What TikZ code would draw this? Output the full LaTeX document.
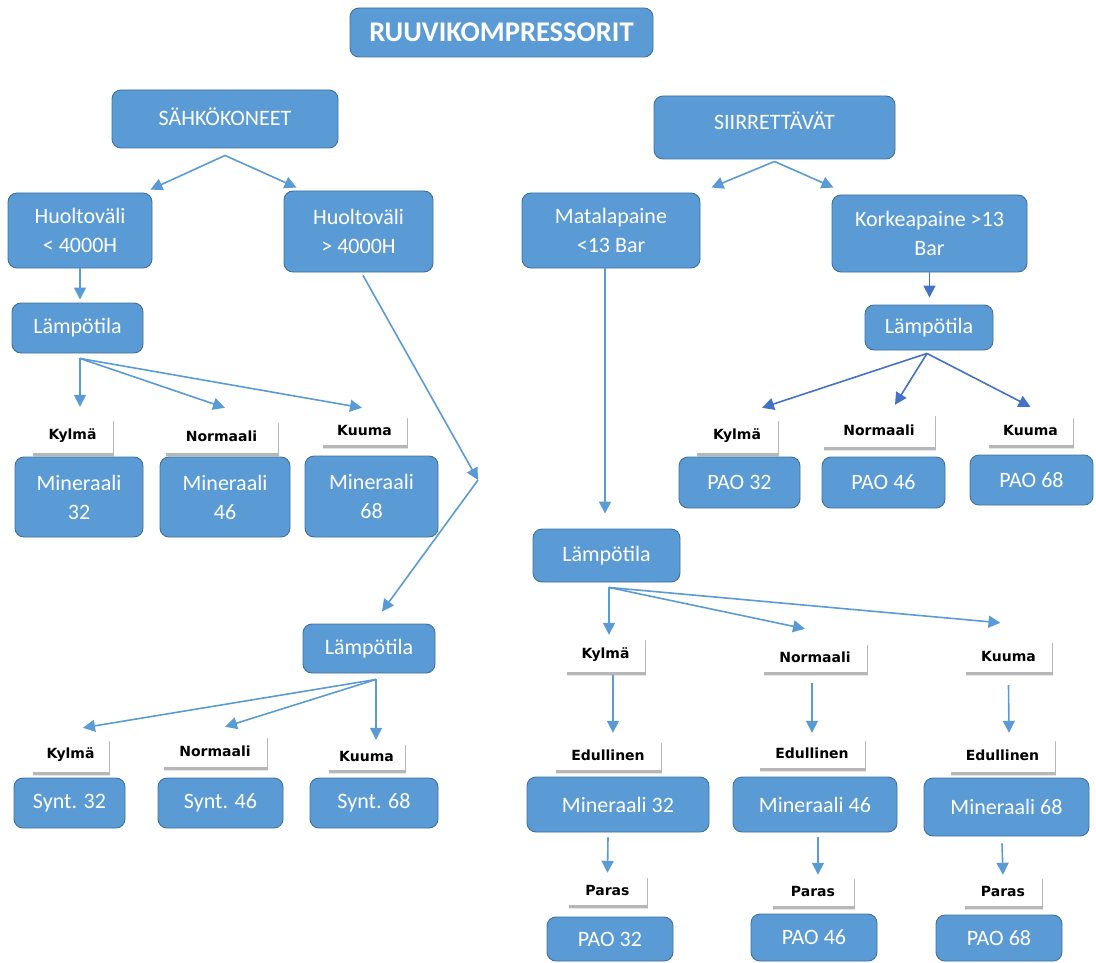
\documentclass[tikz,border=0pt]{standalone}
\usepackage{fontspec}
\setmainfont{Carlito}
\newfontfamily\lblfont{DejaVu Sans}
\usetikzlibrary{arrows.meta,shadows,positioning}

\definecolor{boxblue}{HTML}{5B9BD5}
\definecolor{boxline}{HTML}{41719C}
\definecolor{arrblue}{HTML}{5B9BD5}
\definecolor{arrdark}{HTML}{4472C4}

\tikzset{
  box/.style={draw=boxline, fill=boxblue, rounded corners=9pt, line width=0.9pt,
    text=white, align=center, inner sep=0pt, font=\fontsize{22}{29}\selectfont},
  lbl/.style={fill=white, inner sep=0pt, text=black,
    font=\lblfont\bfseries\fontsize{14}{16}\selectfont,
    drop shadow={shadow xshift=1pt, shadow yshift=-4pt, fill=black!20, opacity=0.5},
    drop shadow={shadow xshift=1pt, shadow yshift=-2.5pt, fill=black!40, opacity=0.6}},
  sz/.style 2 args={minimum width=#1pt, minimum height=#2pt},
  arr/.style={draw=arrblue, line width=1.6pt, -{Triangle[length=12pt,width=12pt]}},
  darkarr/.style={draw=arrdark},
}

\begin{document}
\begin{tikzpicture}[x=1pt, y=-1pt]

      \useasboundingbox (0,0) rectangle (1096,963);

      % Define nodes
      \node[box, sz={303}{49}, font=\bfseries\fontsize{28.5}{32}\selectfont] (title) at (501.5,32.5) {RUUVIKOMPRESSORIT};
      \node[box, sz={226}{58}, text depth=4pt]  (sahko) at (225,119)    {SÄHKÖKONEET};
      \node[box, sz={241}{63}, text depth=13pt] (siirr) at (774.5,127.5) {SIIRRETTÄVÄT};

      \node[box, sz={144}{75}] (h1)   at (80,230.5)    {Huoltoväli\\< 4000H};
      \node[box, sz={149}{81}] (h2)   at (358.5,231.5) {Huoltoväli\\> 4000H};
      \node[box, sz={178}{75}] (mata) at (611,230.5)   {Matalapaine\\<13 Bar};
      \node[box, sz={195}{77}] (kork) at (929.5,233.5) {Korkeapaine >13\\Bar};

      \node[box, sz={131}{50}] (lampA) at (77.5,328)   {Lämpötila};
      \node[box, sz={128}{45}] (lampB) at (929,327.5)  {Lämpötila};
      \node[box, sz={147}{53}] (lampC) at (606.5,555.5) {Lämpötila};
      \node[box, sz={132}{49}] (lampD) at (369,648.5)  {Lämpötila};

      % sahkokoneet, huoltovali < 4000H
      \node[lbl, sz={81}{35}]  (kylA)  at (72.5,435.5)  {Kylmä};
      \node[lbl, sz={113}{33}] (norA)  at (221.5,436.5) {Normaali};
      \node[lbl, sz={85}{30}]  (kuuA)  at (364.5,430)   {Kuuma};
      \node[box, sz={128}{80}] (minA1) at (79,497)      {Mineraali\\32};
      \node[box, sz={130}{80}] (minA2) at (225,497)     {Mineraali\\46};
      \node[box, sz={133}{81}] (minA3) at (371.5,496.5) {Mineraali\\68};

      % siirrettavat, korkeapaine
      \node[lbl, sz={82}{35}]  (kylB)  at (737,435.5)   {Kylmä};
      \node[lbl, sz={112}{34}] (norB)  at (879,430)     {Normaali};
      \node[lbl, sz={85}{30}]  (kuuB)  at (1030.5,430)  {Kuuma};
      \node[box, sz={121}{51}] (paoB1) at (739.5,482.5) {PAO 32};
      \node[box, sz={123}{51}] (paoB2) at (883.5,482.5) {PAO 46};
      \node[box, sz={123}{50}] (paoB3) at (1031.5,480)  {PAO 68};

      % siirrettavat, matalapaine
      \node[lbl, sz={79}{35}]  (kylC)  at (605.5,654.5) {Kylmä};
      \node[lbl, sz={104}{30}] (norC)  at (815,657)     {Normaali};
      \node[lbl, sz={87}{32}]  (kuuC)  at (1008.5,656)  {Kuuma};
      \node[lbl, sz={106}{30}] (eduC1) at (608,755)     {Edullinen};
      \node[lbl, sz={106}{30}] (eduC2) at (812,753)     {Edullinen};
      \node[lbl, sz={105}{34}] (eduC3) at (1002.5,755)  {Edullinen};
      \node[box, sz={182}{55}] (minC1) at (618,804.5)   {Mineraali 32};
      \node[box, sz={164}{55}] (minC2) at (815,804.5)   {Mineraali 46};
      \node[box, sz={165}{58}] (minC3) at (1006.5,807)  {Mineraali 68};
      \node[lbl, sz={79}{30}]  (parC1) at (607.5,890)   {Paras};
      \node[lbl, sz={82}{30}]  (parC2) at (813,891)     {Paras};
      \node[lbl, sz={78}{30}]  (parC3) at (1003,891)    {Paras};
      \node[box, sz={126}{44}] (paoC1) at (610,939)     {PAO 32};
      \node[box, sz={126}{47}] (paoC2) at (814,937.5)   {PAO 46};
      \node[box, sz={126}{46}] (paoC3) at (999,938)     {PAO 68};

      % sahkokoneet, huoltovali > 4000H
      \node[lbl, sz={77}{34}]  (kylD) at (70.5,755)  {Kylmä};
      \node[lbl, sz={104}{32}] (norD) at (215,751)   {Normaali};
      \node[lbl, sz={77}{28}]  (kuuD) at (366.5,756) {Kuuma};
      \node[box, sz={111}{50}] (syn1) at (69.5,803)  {Synt. 32};
      \node[box, sz={125}{50}] (syn2) at (220.5,803) {Synt. 46};
      \node[box, sz={128}{50}] (syn3) at (374,803)   {Synt. 68};

      % Connect the nodes
      \coordinate[below=7pt of sahko] (sahko-out);
      \draw[arr] (sahko-out) -- ([xshift=-2pt,yshift=3pt]h1.north east);
      \draw[arr] (sahko-out) -- ([xshift=13pt,yshift=3pt]h2.north west);
      \coordinate[below=2pt of siirr] (siirr-out);
      \draw[arr] (siirr-out) -- ([xshift=11pt,yshift=5pt]mata.north east);
      \draw[arr] (siirr-out) -- ([xshift=2pt,yshift=7pt]kork.north west);

      \draw[arr, shorten >=3pt] (h1.south) -- (h1.south |- lampA.north);
      \draw[arr, darkarr, shorten >=7pt] (kork.south) -- (kork.south |- lampB.north);

      \coordinate[below=5pt of lampA, xshift=2.5pt] (lampA-out);
      \draw[arr] (lampA-out) -- ([xshift=7.5pt,yshift=11pt]kylA.north);
      \draw[arr] (lampA-out) -- ([xshift=3.5pt,yshift=12pt]norA.north);
      \draw[arr] (lampA-out) -- ([xshift=-2.5pt,yshift=7pt]kuuA.north);

      \coordinate[below=3pt of lampB, xshift=-2pt] (lampB-out);
      \draw[arr, darkarr] (lampB-out) -- ([xshift=25pt,yshift=10pt]kylB.north);
      \draw[arr, darkarr] (lampB-out) -- ([xshift=16pt,yshift=8pt]norB.north);
      \draw[arr, darkarr] (lampB-out) -- ([yshift=8pt]kuuB.north);

      \coordinate (bend) at (478,480);
      \draw[arr] ([xshift=4.5pt,yshift=-3pt]h2.south) -- (bend);
      \draw[arr] (bend) -- ([xshift=13pt,yshift=12pt]lampD.north);

      \draw[arr] ([xshift=-6pt]mata.south) -- ([xshift=-1.5pt,yshift=15pt]lampC.north);

      \coordinate[below=5pt of lampC, xshift=2.5pt] (lampC-out);
      \draw[arr] (lampC-out) -- ([xshift=3.5pt,yshift=2pt]kylC.north);
      \draw[arr] (lampC-out) -- ([xshift=-10pt,yshift=13pt]norC.north);
      \draw[arr] (lampC-out) -- ([xshift=-8pt,yshift=17pt]kuuC.north);

      \draw[arr] ([xshift=7.5pt,yshift=-3pt]kylC.south) -- ([xshift=5pt,yshift=7pt]eduC1.north);
      \draw[arr] ([xshift=-3pt,yshift=-11pt]norC.south) -- ([yshift=5pt]eduC2.north);
      \draw[arr] ([yshift=-13pt]kuuC.south) -- ([xshift=6.5pt,yshift=5pt]eduC3.north);
      \draw[arr] ([xshift=-10pt,yshift=-5pt]minC1.south) -- ([yshift=2pt]parC1.north);
      \draw[arr] ([xshift=3pt,yshift=-5pt]minC2.south) -- ([xshift=5pt,yshift=1pt]parC2.north);
      \draw[arr] ([xshift=-4.5pt,yshift=-7pt]minC3.south) -- ([yshift=1pt]parC3.north);

      \coordinate[below=6pt of lampD, xshift=7pt] (lampD-out);
      \draw[arr] (lampD-out) -- ([xshift=12.5pt,yshift=10pt]kylD.north);
      \draw[arr] (lampD-out) -- ([xshift=10pt,yshift=8pt]norD.north);
      \draw[arr] (lampD-out) -- ([xshift=9.5pt,yshift=2pt]kuuD.north);

\end{tikzpicture}
\end{document}
